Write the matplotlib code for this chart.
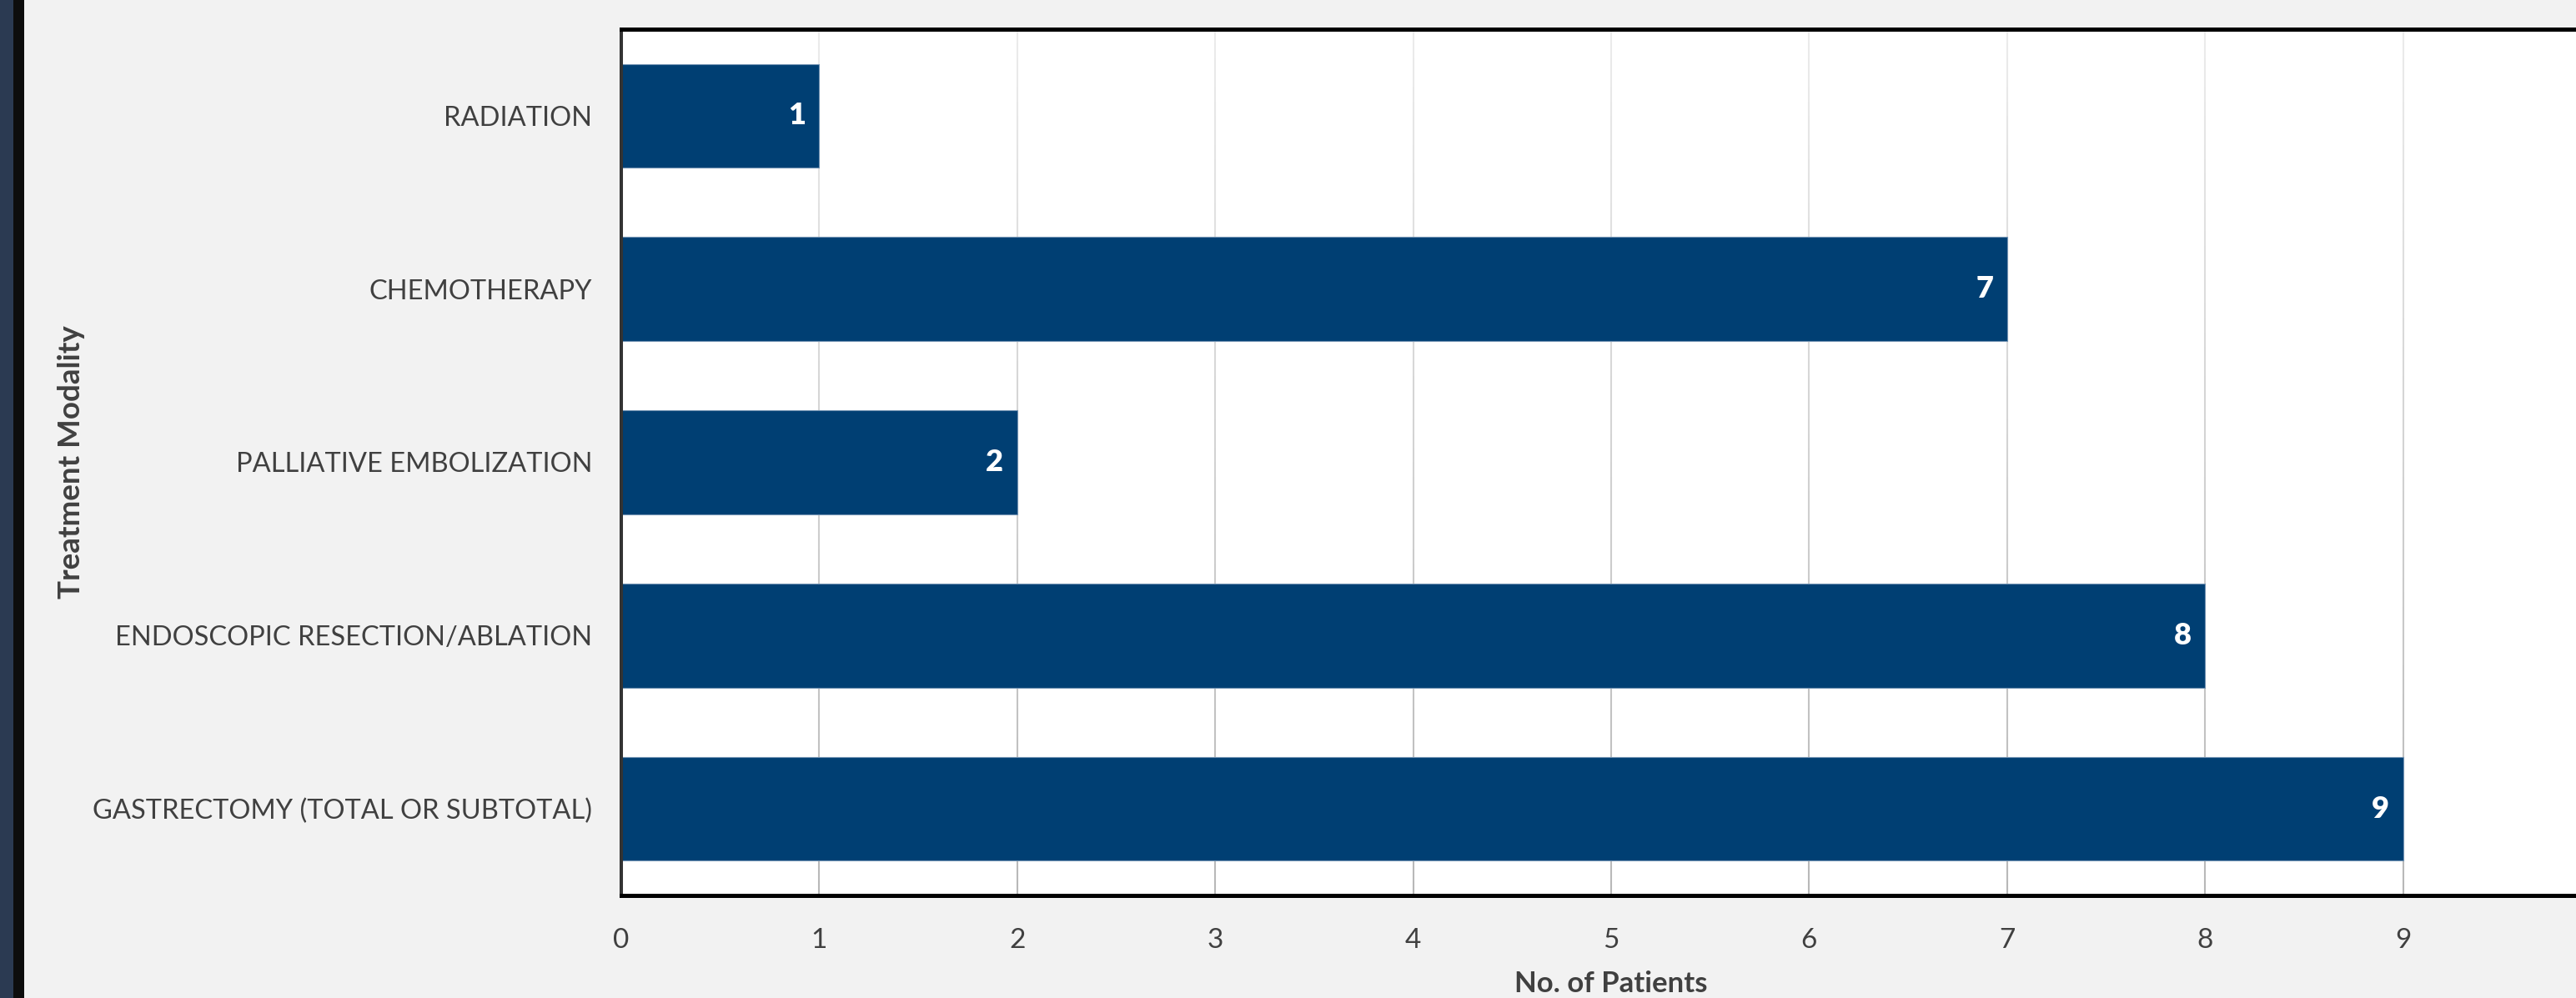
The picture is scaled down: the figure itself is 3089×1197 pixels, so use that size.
import numpy as np
import matplotlib
matplotlib.use("Agg")
import matplotlib.pyplot as plt
from matplotlib.collections import LineCollection
from matplotlib.colors import to_rgb
from matplotlib.patches import Rectangle

# Treatment modalities (bottom to top) and patient counts
modalities = [
    "GASTRECTOMY (TOTAL OR SUBTOTAL)",
    "ENDOSCOPIC RESECTION/ABLATION",
    "PALLIATIVE EMBOLIZATION",
    "CHEMOTHERAPY",
    "RADIATION",
]
patients = [9, 8, 2, 7, 1]
x_ticks = [0, 1, 2, 3, 4, 5, 6, 7, 8, 9]

BG = "#f2f2f2"
BAR = "#003f73"
TEXT = "#404040"
FONT = "Lato"

W, H, DPI = 3089, 1197, 100
fig = plt.figure(figsize=(W / DPI, H / DPI), dpi=DPI, facecolor=BG)

# dark strip at the left edge
fig.patches.append(Rectangle((0, 0), 16 / W, 1, transform=fig.transFigure,
                             facecolor="#2b3a52", edgecolor="none", zorder=0))
fig.patches.append(Rectangle((16 / W, 0), 13 / W, 1, transform=fig.transFigure,
                             facecolor="#0d0d0d", edgecolor="none", zorder=0))

left_px, right_px, top_px, bottom_px = 745, 3119, 35, 1074
ax_w = right_px - left_px
ax_h = bottom_px - top_px
ax = fig.add_axes([left_px / W, 1 - bottom_px / H, ax_w / W, ax_h / H])
ax.set_facecolor("white")

y = np.arange(len(modalities))
ax.set_xlim(0, 10)
ax.set_ylim(-0.5, len(modalities) - 0.5)

# vertical gridlines fading from light at the top to darker at the bottom
c_top = np.array(to_rgb("#ececec"))
c_bot = np.array(to_rgb("#b8b8b8"))
n_seg = 60
ys = np.linspace(ax.get_ylim()[0], ax.get_ylim()[1], n_seg + 1)
segs, cols = [], []
for xv in list(x_ticks[1:]) + [10]:
    for i in range(n_seg):
        segs.append([(xv, ys[i]), (xv, ys[i + 1])])
        t = (ys[i] - ys[0]) / (ys[-1] - ys[0])
        cols.append(c_bot + (c_top - c_bot) * t)
ax.add_collection(LineCollection(segs, colors=cols, linewidths=1.5, zorder=1))

ax.barh(y, patients, height=0.6, color=BAR, edgecolor="#7393b3",
        linewidth=0.8, zorder=2)

for yi, v in zip(y, patients):
    ax.annotate(str(v), xy=(v, yi), xytext=(-12, 0), textcoords="offset points",
                ha="right", va="center", color="white", fontsize=26,
                fontweight="heavy", fontfamily=FONT, zorder=3)

ax.set_yticks(y)
ax.set_yticklabels(modalities, fontsize=23.5, color=TEXT, fontfamily=FONT)
ax.set_xticks(x_ticks)
ax.set_xticklabels([str(t) for t in x_ticks], fontsize=24, color=TEXT,
                   fontfamily=FONT)
ax.tick_params(axis="y", length=0, pad=25)
ax.tick_params(axis="x", length=0, pad=28)

ax.set_xlabel("No. of Patients", fontsize=25, fontweight="bold", color=TEXT,
              fontfamily=FONT)
ax.xaxis.set_label_coords((1932 - left_px) / ax_w, -0.087)
ax.set_ylabel("Treatment Modality", fontsize=26.5, fontweight="bold", color=TEXT,
              fontfamily=FONT)
ax.yaxis.set_label_coords(-(left_px - 102) / ax_w, 0.5)

for side in ("top", "bottom"):
    ax.spines[side].set_color("black")
    ax.spines[side].set_linewidth(3.6)
ax.spines["left"].set_color("#333333")
ax.spines["left"].set_linewidth(2.9)
ax.spines["right"].set_visible(False)
for s in ax.spines.values():
    s.set_zorder(4)

fig.savefig("out.png", dpi=DPI, facecolor=BG)
